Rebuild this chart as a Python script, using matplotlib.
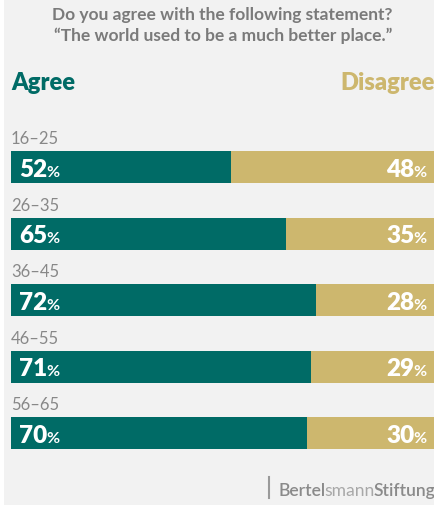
import matplotlib
matplotlib.use("Agg")
import matplotlib.pyplot as plt
from matplotlib.patches import Rectangle
from matplotlib.lines import Line2D

# Survey data
age_groups = ["16–25", "26–35", "36–45", "46–55", "56–65"]
agree = [52, 65, 72, 71, 70]
disagree = [48, 35, 28, 29, 30]

TEAL = "#006b66"
GOLD = "#cdb76e"
GREY_TEXT = "#7a7a7a"
PANEL = "#f2f2f2"

plt.rcParams["font.family"] = ["Lato", "DejaVu Sans"]

W, H = 435, 506
DPI = 100
fig = plt.figure(figsize=(W / DPI, H / DPI), dpi=DPI)
fig.patch.set_facecolor("white")


def fx(px):
    return px / W


def fy(py):
    return 1 - py / H


# light panel behind the chart
fig.patches.append(Rectangle((fx(4), fy(505.5)), fx(431), 505.5 / H,
                             transform=fig.transFigure, facecolor=PANEL,
                             edgecolor="none", zorder=-5))

# title
fig.text(fx(222), fy(15), "Do you agree with the following statement?",
         ha="center", va="center", fontsize=12.5, fontweight="bold", color=GREY_TEXT)
fig.text(fx(223), fy(36), "“The world used to be a much better place.”",
         ha="center", va="center", fontsize=12.5, fontweight="bold", color=GREY_TEXT)

# legend headers
fig.text(fx(11), fy(90), "Agree", ha="left", va="baseline",
         fontsize=17, fontweight="heavy", color=TEAL)
fig.text(fx(435), fy(90), "Disagree", ha="right", va="baseline",
         fontsize=17, fontweight="heavy", color=GOLD)

# bar area
row_px = 66.5
top_px = 168 - row_px / 2
bottom_px = top_px + row_px * len(age_groups)
ax = fig.add_axes([fx(11), fy(bottom_px), fx(434) - fx(11), (bottom_px - top_px) / H])
ax.set_facecolor("none")
for s in ax.spines.values():
    s.set_visible(False)
ax.set_xticks([])
ax.set_yticks([])
ax.set_xlim(0, 100)
ax.set_ylim(len(age_groups) - 0.5, -0.5)

ys = list(range(len(age_groups)))
bar_h = 32 / row_px
ax.barh(ys, agree, height=bar_h, color=TEAL, linewidth=0)
ax.barh(ys, disagree, left=agree, height=bar_h, color=GOLD, linewidth=0)

fig.canvas.draw()
renderer = fig.canvas.get_renderer()
inv = ax.transData.inverted()


def px_to_data_dx(dpx):
    x0 = inv.transform((0, 0))[0]
    x1 = inv.transform((dpx, 0))[0]
    return x1 - x0


NUM_FS = 17.5
PCT_FS = 11.5
for i, (label, a, d) in enumerate(zip(age_groups, agree, disagree)):
    ax.text(0, i - 0.36, label, ha="left", va="baseline", fontsize=12,
            color="#888888", clip_on=False)

    y_base = i + 0.13
    # left value: number then smaller percent sign
    t = ax.text(px_to_data_dx(8), y_base, f"{a}", ha="left", va="baseline",
                fontsize=NUM_FS, fontweight="heavy", color="white")
    bb = t.get_window_extent(renderer)
    x_end = inv.transform((bb.x1, 0))[0]
    ax.text(x_end - px_to_data_dx(0.5), y_base, "%", ha="left", va="baseline",
            fontsize=PCT_FS, fontweight="bold", color="white")

    # right value: percent sign anchored at right, number before it
    p = ax.text(100 - px_to_data_dx(7), y_base, "%", ha="right", va="baseline",
                fontsize=PCT_FS, fontweight="bold", color="white")
    pb = p.get_window_extent(renderer)
    x_start = inv.transform((pb.x0, 0))[0]
    ax.text(x_start + px_to_data_dx(0.5), y_base, f"{d}", ha="right", va="baseline",
            fontsize=NUM_FS, fontweight="heavy", color="white")

# footer logo text
fig.lines.append(Line2D([fx(269), fx(269)], [fy(478), fy(499)], transform=fig.transFigure,
                        color="#9a9a9a", linewidth=1.5))
logo_parts = [("Bertel", "semibold", "#8a8a8a"),
              ("smann", "normal", "#a8a8a8"),
              ("Stiftung", "semibold", "#8a8a8a")]
x_px = 278
for part, weight, col in logo_parts:
    t = fig.text(fx(x_px), fy(496.5), part, ha="left", va="baseline",
                 fontsize=12.6, fontweight=weight, color=col)
    fig.canvas.draw()
    x_px = t.get_window_extent(fig.canvas.get_renderer()).x1 - 1

fig.savefig("out.png", dpi=DPI)
